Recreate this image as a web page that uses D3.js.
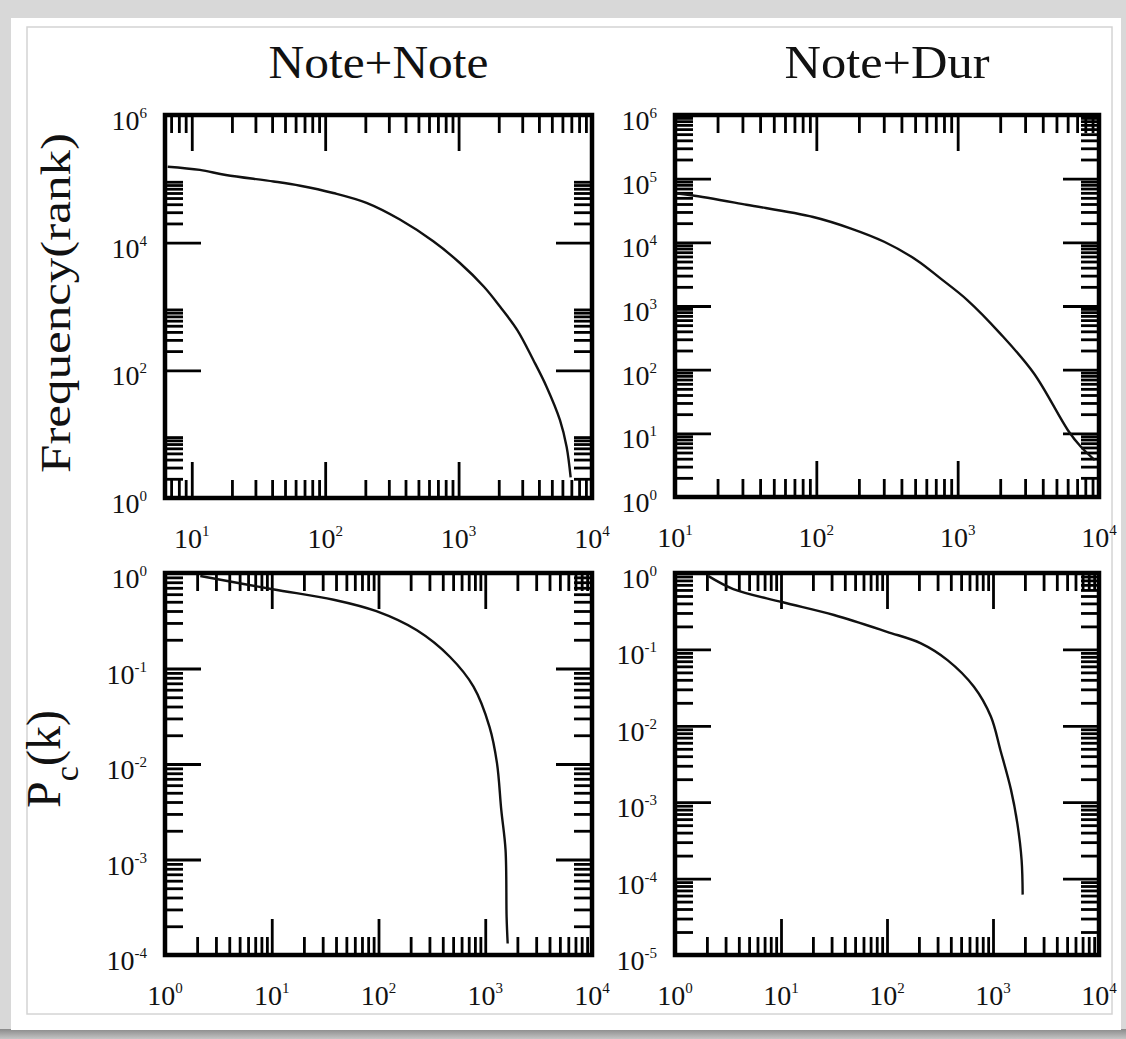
<!DOCTYPE html>
<html>
<head>
<meta charset="utf-8">
<script src="https://cdn.jsdelivr.net/npm/d3@7"></script>
<style>
  html, body { margin: 0; padding: 0; background: #d6d6d6; }
  svg { display: block; }
  text { font-family: "Liberation Serif", "Times New Roman", serif; fill: #111; }
</style>
</head>
<body>
<svg id="chart" width="1126" height="1039"></svg>
<script>
// ---------------- DATA ----------------
const panelTitles = ["Note+Note", "Note+Dur"];
const rowLabels = ["Frequency(rank)", "P_c(k)"];

// Top-left: Note+Note rank-frequency
const nnRank = [6.6, 11.5, 18, 41, 65, 115, 204, 363, 646, 1023, 1549, 2042, 2754, 3631, 4571, 5754, 6457, 6918];
const nnFreq = [155000, 138000, 115000, 91000, 78000, 60000, 42000, 23000, 10500, 4800, 2040, 1000, 427, 145, 55, 16.6, 6.3, 2.1];

// Top-right: Note+Dur rank-frequency
const ndRank = [10, 13.1, 32, 95, 174, 302, 513, 759, 1175, 1995, 3467, 6026, 7413, 9333];
const ndFreq = [59000, 55000, 39000, 25000, 16600, 10200, 5250, 2690, 1230, 372, 87, 11.2, 6.2, 3.8];

// Bottom-left: Note+Note cumulative degree distribution
const nnK  = [2.14, 10.2, 38, 95.5, 229, 468, 776, 1096, 1288, 1413, 1549, 1585, 1622];
const nnPc = [0.93, 0.676, 0.525, 0.398, 0.251, 0.132, 0.0646, 0.0245, 0.0102, 0.0033, 0.00126, 0.00025, 0.000132];

// Bottom-right: Note+Dur cumulative degree distribution
const ndK  = [2.07, 3.55, 10.2, 31.6, 100, 209, 372, 661, 955, 1175, 1479, 1698, 1862, 1905];
const ndPc = [0.91, 0.617, 0.417, 0.282, 0.170, 0.120, 0.0724, 0.0324, 0.0132, 0.00479, 0.00145, 0.000525, 0.000174, 0.0000617];

// Tick label exponents (10^n)
const tlXExp = [1, 2, 3, 4], tlYExp = [0, 2, 4, 6];
const trXExp = [1, 2, 3, 4], trYExp = [0, 1, 2, 3, 4, 5, 6];
const blXExp = [0, 1, 2, 3, 4], blYExp = [0, -1, -2, -3, -4];
const brXExp = [0, 1, 2, 3, 4], brYExp = [0, -1, -2, -3, -4, -5];

// ---------------- LAYOUT ----------------
const svg = d3.select("#chart");

// backdrop
const defs = svg.append("defs");
const sh = defs.append("linearGradient").attr("id", "shadow").attr("x1", 0).attr("y1", 0).attr("x2", 0).attr("y2", 1);
sh.append("stop").attr("offset", "0%").attr("stop-color", "#8a8a8a");
sh.append("stop").attr("offset", "100%").attr("stop-color", "#c4c4c4");
svg.append("rect").attr("x", 0).attr("y", 0).attr("width", 1126).attr("height", 1039).attr("fill", "#d8d8d8");
svg.append("rect").attr("x", 0).attr("y", 1029).attr("width", 1126).attr("height", 10).attr("fill", "url(#shadow)");
svg.append("rect").attr("x", 11).attr("y", 18).attr("width", 1110).attr("height", 1012).attr("fill", "#fff");
svg.append("rect").attr("x", 27).attr("y", 27).attr("width", 1085).attr("height", 987)
  .attr("fill", "none").attr("stroke", "#d4d4d4").attr("stroke-width", 1.5);

const panels = [
  { box: [165, 115, 592, 498], xd: [6.3, 1e4], yd: [1, 1e6], xMinDec: [0, 1, 2, 3], yMinDec: [0, 2, 4],
    xMaj: tlXExp, yMaj: tlYExp, xLab: tlXExp, yLab: tlYExp, xs: nnRank, ys: nnFreq },
  { box: [675, 115, 1099, 497], xd: [10, 1e4], yd: [1, 1e6], xMinDec: [1, 2, 3], yMinDec: [0, 1, 2, 3, 4, 5],
    xMaj: trXExp, yMaj: trYExp, xLab: trXExp, yLab: trYExp, xs: ndRank, ys: ndFreq },
  { box: [165, 573, 592, 955], xd: [1, 1e4], yd: [1e-4, 1], xMinDec: [0, 1, 2, 3], yMinDec: [-4, -3, -2, -1],
    xMaj: blXExp, yMaj: blYExp, xLab: blXExp, yLab: blYExp, xs: nnK, ys: nnPc },
  { box: [675, 573, 1099, 955], xd: [1, 1e4], yd: [1e-5, 1], xMinDec: [0, 1, 2, 3], yMinDec: [-5, -4, -3, -2, -1],
    xMaj: brXExp, yMaj: brYExp, xLab: brXExp, yLab: brYExp, xs: ndK, ys: ndPc }
];

const MAJ = 36, MIN = 18, TW = 2.8;

function minors(decs, dom) {
  const out = [];
  decs.forEach(d => { for (let k = 2; k <= 9; k++) { const v = k * Math.pow(10, d); if (v >= dom[0] && v <= dom[1]) out.push(v); } });
  return out;
}
function styleAxis(g) {
  g.select(".domain").remove();
  g.selectAll("text").remove();
  g.selectAll("line").attr("stroke", "#000").attr("stroke-width", TW);
}
function expLabel(sel, e) {
  sel.style("font-size", "28px");
  sel.append("tspan").text("10");
  sel.append("tspan").text(String(e)).style("font-size", "15px").attr("dy", -12);
}

panels.forEach((p, i) => {
  const [x0, y0, x1, y1] = p.box;
  const x = d3.scaleLog().domain(p.xd).range([x0, x1]);
  const y = d3.scaleLog().domain(p.yd).range([y1, y0]);
  const g = svg.append("g");

  const xMajV = p.xMaj.map(e => Math.pow(10, e));
  const yMajV = p.yMaj.map(e => Math.pow(10, e));
  const xMinV = minors(p.xMinDec, p.xd);
  const yMinV = minors(p.yMinDec, p.yd);

  // ticks (inward) on all four sides
  [[d3.axisBottom, y1, xMajV, MAJ], [d3.axisBottom, y1, xMinV, MIN], [d3.axisTop, y0, xMajV, MAJ], [d3.axisTop, y0, xMinV, MIN]]
    .forEach(([ax, ty, vals, len]) => {
      g.append("g").attr("transform", `translate(0,${ty})`)
        .call(ax(x).tickValues(vals).tickSize(-len).tickFormat(""))
        .call(styleAxis);
    });
  [[d3.axisLeft, x0, yMajV, MAJ], [d3.axisLeft, x0, yMinV, MIN], [d3.axisRight, x1, yMajV, MAJ], [d3.axisRight, x1, yMinV, MIN]]
    .forEach(([ax, tx, vals, len]) => {
      g.append("g").attr("transform", `translate(${tx},0)`)
        .call(ax(y).tickValues(vals).tickSize(-len).tickFormat(""))
        .call(styleAxis);
    });

  // curve
  const clipId = "clip" + i;
  defs.append("clipPath").attr("id", clipId).append("rect")
    .attr("x", x0).attr("y", y0).attr("width", x1 - x0).attr("height", y1 - y0);
  const line = d3.line().x(d => x(d[0])).y(d => y(d[1])).curve(d3.curveCatmullRom.alpha(0.5));
  g.append("path").datum(p.xs.map((v, j) => [v, p.ys[j]]))
    .attr("d", line).attr("fill", "none").attr("stroke", "#111").attr("stroke-width", 2.4)
    .attr("clip-path", `url(#${clipId})`);

  // frame
  g.append("rect").attr("x", x0).attr("y", y0).attr("width", x1 - x0).attr("height", y1 - y0)
    .attr("fill", "none").attr("stroke", "#000").attr("stroke-width", 4.5);

  // tick labels
  p.xLab.forEach(e => {
    g.append("text").attr("x", x(Math.pow(10, e))).attr("y", y1 + 50).attr("text-anchor", "middle")
      .call(expLabel, e);
  });
  p.yLab.forEach(e => {
    g.append("text").attr("x", x0 - 18).attr("y", y(Math.pow(10, e)) + 15).attr("text-anchor", "end")
      .call(expLabel, e);
  });
});

// column titles
svg.append("text").attr("x", 378.5).attr("y", 78).attr("text-anchor", "middle")
  .attr("font-size", 46).attr("textLength", 220).attr("lengthAdjust", "spacingAndGlyphs").text(panelTitles[0]);
svg.append("text").attr("x", 887).attr("y", 78).attr("text-anchor", "middle")
  .attr("font-size", 46).attr("textLength", 205).attr("lengthAdjust", "spacingAndGlyphs").text(panelTitles[1]);

// row labels
svg.append("text").attr("transform", "translate(70,303) rotate(-90)").attr("text-anchor", "middle")
  .attr("font-size", 42).attr("textLength", 340).attr("lengthAdjust", "spacingAndGlyphs").text(rowLabels[0]);

const pc = svg.append("text").attr("transform", "translate(60,759) rotate(-90)").attr("text-anchor", "middle").attr("font-size", 48);
pc.append("tspan").text("P");
pc.append("tspan").text("c").attr("font-size", 34).attr("dy", 18);
pc.append("tspan").text("(k)").attr("dy", -18);
</script>
</body>
</html>
